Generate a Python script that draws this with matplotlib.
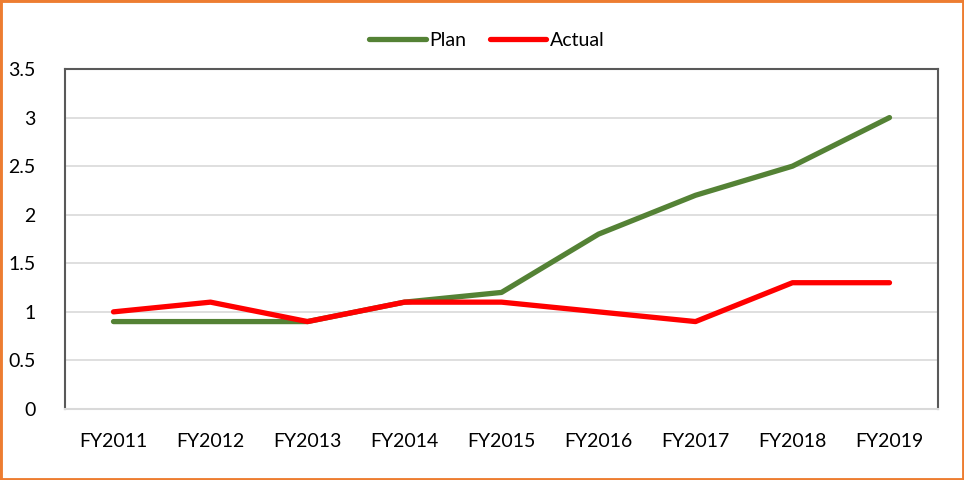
import matplotlib
matplotlib.use("Agg")
import matplotlib.pyplot as plt
from matplotlib.patches import Rectangle

categories = ["FY2011", "FY2012", "FY2013", "FY2014", "FY2015", "FY2016", "FY2017", "FY2018", "FY2019"]
plan = [0.9, 0.9, 0.9, 1.1, 1.2, 1.8, 2.2, 2.5, 3.0]
actual = [1.0, 1.1, 0.9, 1.1, 1.1, 1.0, 0.9, 1.3, 1.3]
yticks = [0, 0.5, 1, 1.5, 2, 2.5, 3, 3.5]
ytick_labels = ["0", "0.5", "1", "1.5", "2", "2.5", "3", "3.5"]

plt.rcParams['font.family'] = ['Lato', 'DejaVu Sans']

W, H = 964, 480
fig = plt.figure(figsize=(W / 100, H / 100), dpi=100)
ax = fig.add_axes([65 / W, 1 - 409 / H, (938 - 65) / W, (409 - 69) / H])

x = list(range(len(categories)))
ax.plot(x, plan, color="#548235", lw=3.8, solid_capstyle="round", solid_joinstyle="round", label="Plan", zorder=3)
ax.plot(x, actual, color="#FF0000", lw=3.8, solid_capstyle="round", solid_joinstyle="round", label="Actual", zorder=4)

ax.set_xlim(-0.5, len(categories) - 0.5)
ax.set_ylim(0, 3.5)
ax.set_yticks(yticks)
ax.set_yticklabels(ytick_labels)
ax.set_xticks(x)
ax.set_xticklabels(categories)
ax.tick_params(axis="both", length=0, labelsize=14, colors="black")
ax.tick_params(axis="x", pad=17)
ax.tick_params(axis="y", pad=21)
for lab in ax.get_yticklabels():
    lab.set_horizontalalignment("right")

ax.grid(axis="y", color="#D9D9D9", lw=1.2, zorder=0)
ax.set_axisbelow(True)
for s in ["left", "top", "right"]:
    ax.spines[s].set_color("#595959")
    ax.spines[s].set_linewidth(1.5)
ax.spines["bottom"].set_color("#D9D9D9")
ax.spines["bottom"].set_linewidth(1.5)

leg = fig.legend(loc="center", bbox_to_anchor=(487 / W, 1 - 40 / H), ncol=2, frameon=False,
                 fontsize=14, handlelength=2.9, handletextpad=0.2, columnspacing=1.2)

fig.patches.append(Rectangle((0, 0), 1, 1, transform=fig.transFigure, fill=False,
                             edgecolor="#ED7D31", lw=3.5, zorder=10))

fig.savefig("out.png", dpi=100)
